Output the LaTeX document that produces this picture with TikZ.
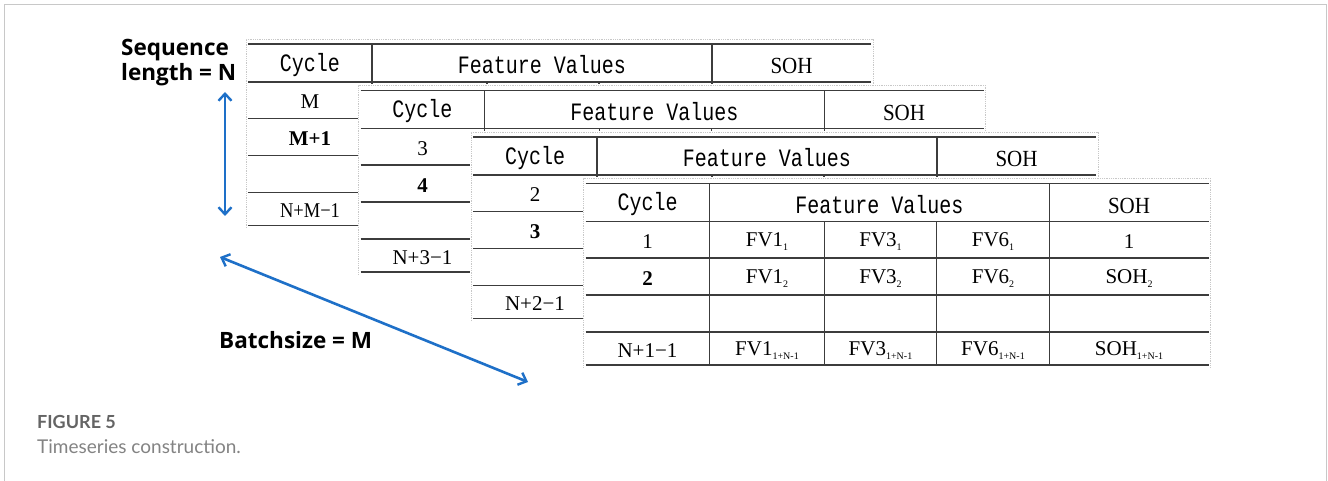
\documentclass[tikz,border=0pt]{standalone}
\usepackage{fontspec}
\setmainfont{Liberation Serif}
\newfontfamily\monofnt{Liberation Mono}
\newfontfamily\lblfont{Open Sans}
\newfontfamily\capfont{Lato}
\usetikzlibrary{arrows.meta}
\definecolor{arrowblue}{RGB}{30,112,200}
\definecolor{rulegray}{RGB}{60,60,60}
\definecolor{framegray}{RGB}{200,200,200}
\definecolor{capgray}{RGB}{100,100,100}
\newcommand{\lowtxt}[1]{\raisebox{-4pt}{\fontsize{10}{10}\selectfont #1}}
\newcommand{\tallmono}[1]{\scalebox{1}[1.25]{#1}}
\tikzset{
  rule/.style={draw=rulegray, line width=1.3pt},
  tframe/.style={draw=framegray, line width=0.8pt, densely dotted},
  hdr/.style={font=\monofnt\fontsize{20}{20}\selectfont, inner sep=0pt},
  hdrs/.style={font=\fontsize{21}{21}\selectfont, inner sep=0pt},
  cell/.style={font=\fontsize{21}{21}\selectfont, inner sep=0pt},
  bcell/.style={font=\bfseries\fontsize{21}{21}\selectfont, inner sep=0pt},
  lbl/.style={font=\lblfont\bfseries\fontsize{22.5}{25}\selectfont, inner sep=0pt, align=left},
  barrow/.style={draw=arrowblue, line width=2.6pt, {Straight Barb[length=7pt,width=13pt,line width=2.4pt]}-{Straight Barb[length=7pt,width=13pt,line width=2.4pt]}},
}
% #1 x, #2 y, #3 name prefix, #4 row1, #5 row2 (bold), #6 last row
\newcommand{\datatable}[6]{%
\begin{scope}[shift={(#1,#2)}]
  \fill[white] (-3,-6) rectangle (626,184);
  \draw[tframe] (-2,184) -- (-2,-5) -- (625,-5) -- (625,184);
  \foreach \yy in {0,38,74.5,111.5,148.5,181.5} \draw[rule] (0,\yy) -- (623,\yy);
  \draw[rule] (124,0) -- (124,181.5);
  \draw[rule] (464,0) -- (464,181.5);
  \draw[rule] (239,38) -- (239,181.5);
  \draw[rule] (351,38) -- (351,181.5);
  \node[hdr]  (#3-cyc) at (62,21) {\tallmono{Cycle}};
  \node[hdr]  (#3-fv)  at (294,21) {\tallmono{Feature Values}};
  \node[hdrs] (#3-soh) at (543.5,22) {\scalebox{1}[1.1]{SOH}};
  \node[cell]  (#3-r1) at (62,58) {#4};
  \node[bcell] (#3-r2) at (62,95) {#5};
  \node[cell]  (#3-r4) at (62,167) {#6};
\end{scope}}
\begin{document}
\begin{tikzpicture}[x=1pt,y=-1pt]
\useasboundingbox (0,0) rectangle (1328,481);
\fill[white] (0,0) rectangle (1328,481);
\draw[framegray, line width=1.5pt] (4.5,481) -- (4.5,4.5) -- (1326.5,4.5) -- (1326.5,481);

\datatable{248}{44}{ta}{M}{M+1}{\scalebox{0.88}[1]{N+M−1}}
\datatable{360.5}{90.5}{tb}{3}{4}{N+3−1}
\datatable{473}{137}{tc}{2}{3}{N+2−1}
\datatable{585.5}{183.5}{td}{1}{2}{N+1−1}

\begin{scope}[shift={(585.5,183.5)}]
  \node[cell] (d-a1) at (181.5,58) {FV1\lowtxt{1}};
  \node[cell] (d-b1) at (295,58) {FV3\lowtxt{1}};
  \node[cell] (d-c1) at (407.5,58) {FV6\lowtxt{1}};
  \node[cell] (d-s1) at (543.5,58) {1};
  \node[cell] (d-a2) at (181.5,95) {FV1\lowtxt{2}};
  \node[cell] (d-b2) at (295,95) {FV3\lowtxt{2}};
  \node[cell] (d-c2) at (407.5,95) {FV6\lowtxt{2}};
  \node[cell] (d-s2) at (543.5,95) {SOH\lowtxt{2}};
  \node[cell] (d-a4) at (181.5,167) {FV1\lowtxt{1+N-1}};
  \node[cell] (d-b4) at (295,167) {FV3\lowtxt{1+N-1}};
  \node[cell] (d-c4) at (407.5,167) {FV6\lowtxt{1+N-1}};
  \node[cell] (d-s4) at (543.5,167) {SOH\lowtxt{1+N-1}};
\end{scope}

\node[lbl, anchor=north west] (seq) at (121,39) {Sequence\\length = N};
\node[lbl, anchor=west] (batch) at (219,340) {Batchsize = M};

\coordinate (v1) at (225,92);
\coordinate (v2) at (225,216);
\draw[barrow] (v1) -- (v2);
\coordinate (d1) at (220,257);
\coordinate (d2) at (528,382);
\draw[barrow] (d1) -- (d2);

\node[font=\capfont\bfseries\fontsize{18}{18}\selectfont, text=capgray, anchor=west, inner sep=0pt] (figlab) at (37,422) {FIGURE 5};
\node[font=\capfont\fontsize{19}{19}\selectfont, text=capgray!80, anchor=west, inner sep=0pt] (figcap) at (37,447) {Timeseries construction.};
\end{tikzpicture}
\end{document}
